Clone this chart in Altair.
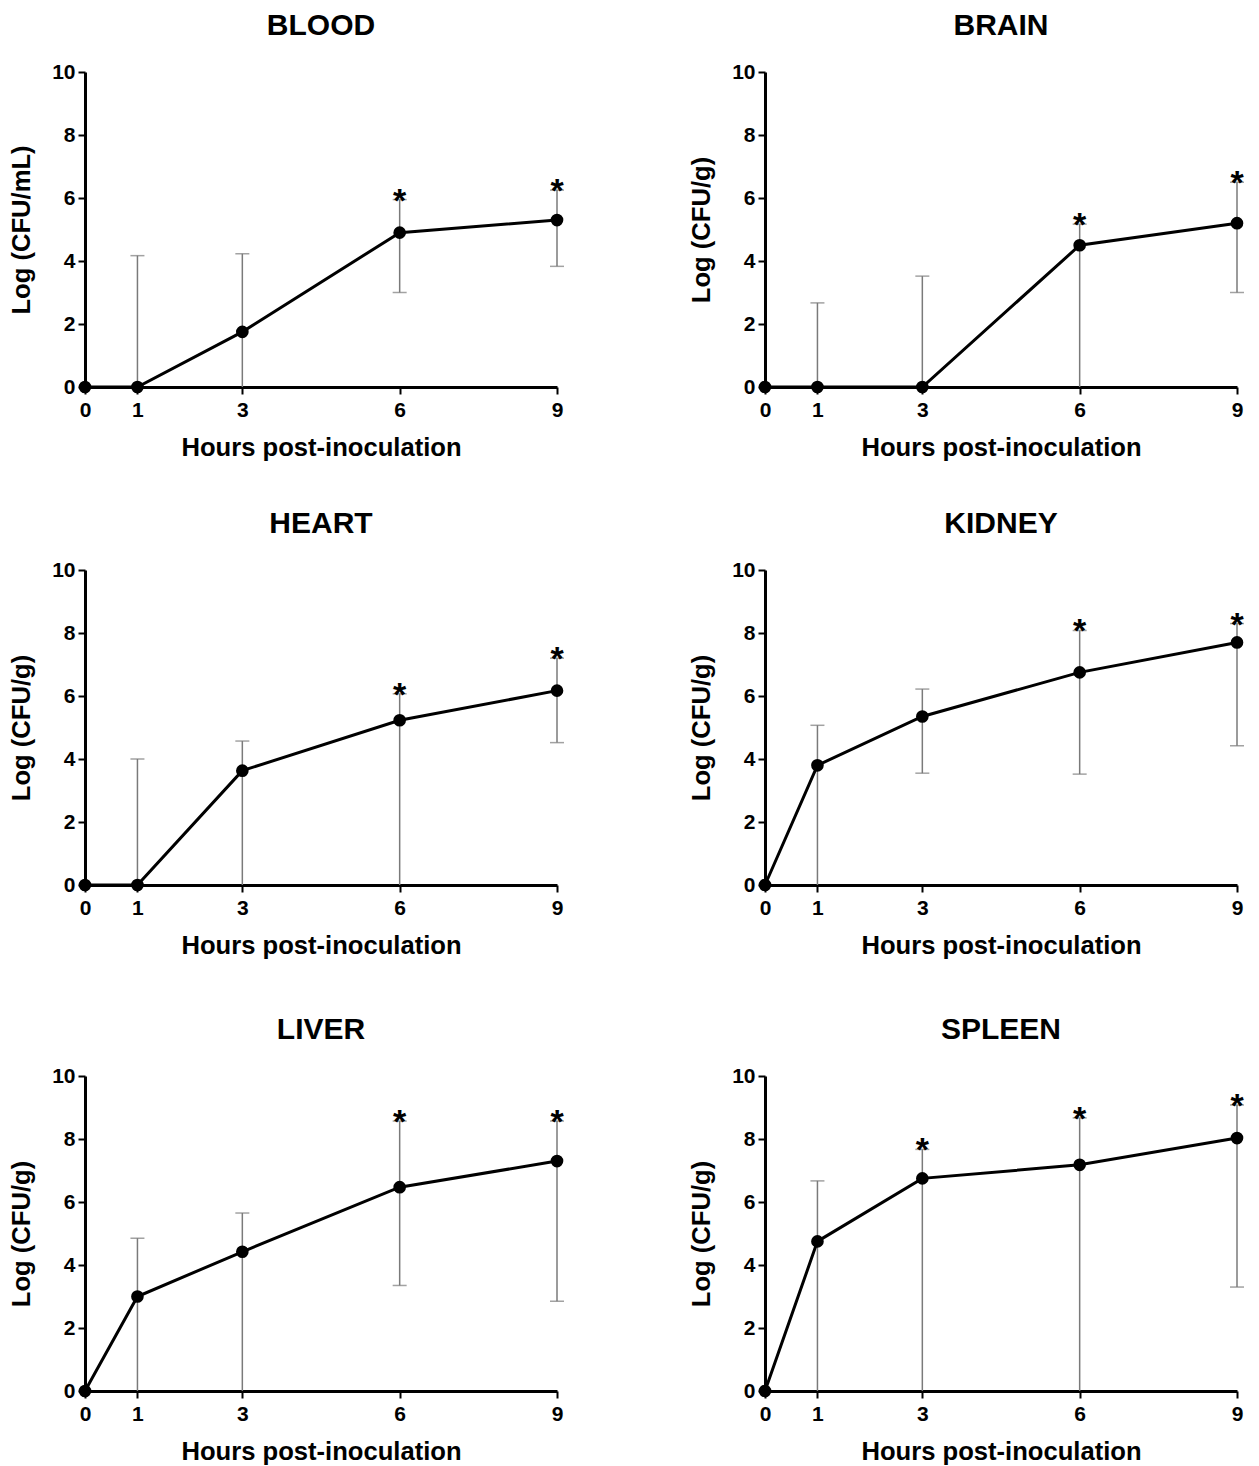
import altair as alt
import pandas as pd

HOURS = [0, 1, 3, 6, 9]

BLOOD_MEAN = [0, 0, 1.75, 4.9, 5.3]
BLOOD_UP = [None, 4.17, 4.23, 5.95, 6.25]
BLOOD_LO = [None, 0, 0, 3.0, 3.83]
BLOOD_STAR = [6, 9]

BRAIN_MEAN = [0, 0, 0, 4.5, 5.2]
BRAIN_UP = [None, 2.67, 3.52, 5.17, 6.5]
BRAIN_LO = [None, 0, 0, 0, 3.0]
BRAIN_STAR = [6, 9]

HEART_MEAN = [0, 0, 3.63, 5.23, 6.17]
HEART_UP = [None, 4.0, 4.57, 6.07, 7.2]
HEART_LO = [None, 0, 0, 0, 4.52]
HEART_STAR = [6, 9]

KIDNEY_MEAN = [0, 3.8, 5.35, 6.75, 7.7]
KIDNEY_UP = [None, 5.07, 6.22, 8.08, 8.3]
KIDNEY_LO = [None, 0, 3.55, 3.52, 4.42]
KIDNEY_STAR = [6, 9]

LIVER_MEAN = [0, 3.0, 4.42, 6.47, 7.3]
LIVER_UP = [None, 4.85, 5.65, 8.57, 8.57]
LIVER_LO = [None, 0, 0, 3.35, 2.85]
LIVER_STAR = [6, 9]

SPLEEN_MEAN = [0, 4.75, 6.75, 7.18, 8.03]
SPLEEN_UP = [None, 6.67, 7.67, 8.67, 9.08]
SPLEEN_LO = [None, 0, 0, 0, 3.3]
SPLEEN_STAR = [3, 6, 9]

X_TICKS = [0, 1, 3, 6, 9]
Y_TICKS = [0, 2, 4, 6, 8, 10]
X_TITLE = "Hours post-inoculation"

FONT = "Liberation Sans"
W, H = 472, 315


def panel(name, ytitle, mean, up, lo, stars):
    df = pd.DataFrame({"h": HOURS, "m": mean, "up": up, "lo": lo})
    err = df.dropna().copy()
    low_caps = err[err["lo"] > 0]
    sdf = err[err["h"].isin(stars)]

    xs = alt.Scale(domain=[0, 9], nice=False, zero=False)
    ys = alt.Scale(domain=[0, 10], nice=False)
    xa = alt.Axis(values=X_TICKS, title=X_TITLE, labelPadding=5, titlePadding=15)
    ya = alt.Axis(values=Y_TICKS, title=ytitle, labelPadding=3, titlePadding=17)

    def X():
        return alt.X("h:Q", scale=xs, axis=xa)

    def Y(f):
        return alt.Y(f, type="quantitative", scale=ys, axis=ya)

    rule = alt.Chart(err).mark_rule(color="#7a7a7a", strokeWidth=1.5).encode(
        x=X(), y=Y("lo"), y2="up"
    )
    capu = alt.Chart(err).mark_tick(
        orient="horizontal", color="#7a7a7a", size=14, thickness=1.5
    ).encode(x=X(), y=Y("up"))
    capl = alt.Chart(low_caps).mark_tick(
        orient="horizontal", color="#7a7a7a", size=14, thickness=1.5
    ).encode(x=X(), y=Y("lo"))
    line = alt.Chart(df).mark_line(color="black", strokeWidth=3).encode(
        x=X(), y=Y("m")
    )
    pts = alt.Chart(df).mark_circle(size=160, color="black", opacity=1).encode(
        x=X(), y=Y("m")
    )
    star = alt.Chart(sdf).mark_text(
        text="*", font=FONT, fontSize=34, fontWeight="bold", baseline="alphabetic",
        dy=12, color="black"
    ).encode(x=X(), y=Y("up"))

    return alt.layer(rule, capu, capl, line, pts, star).properties(
        width=W, height=H,
        title=alt.TitleParams(name, font=FONT, fontSize=30, fontWeight="bold",
                              color="black", anchor="middle", offset=20),
    )


blood = panel("BLOOD", "Log (CFU/mL)", BLOOD_MEAN, BLOOD_UP, BLOOD_LO, BLOOD_STAR)
brain = panel("BRAIN", "Log (CFU/g)", BRAIN_MEAN, BRAIN_UP, BRAIN_LO, BRAIN_STAR)
heart = panel("HEART", "Log (CFU/g)", HEART_MEAN, HEART_UP, HEART_LO, HEART_STAR)
kidney = panel("KIDNEY", "Log (CFU/g)", KIDNEY_MEAN, KIDNEY_UP, KIDNEY_LO, KIDNEY_STAR)
liver = panel("LIVER", "Log (CFU/g)", LIVER_MEAN, LIVER_UP, LIVER_LO, LIVER_STAR)
spleen = panel("SPLEEN", "Log (CFU/g)", SPLEEN_MEAN, SPLEEN_UP, SPLEEN_LO, SPLEEN_STAR)

HSP = 125
row1 = alt.hconcat(blood, brain, spacing=HSP)
row2 = alt.hconcat(heart, kidney, spacing=HSP)
row3 = alt.hconcat(liver, spleen, spacing=HSP)

chart = alt.vconcat(
    row1, alt.vconcat(row2, row3, spacing=56), spacing=48
).properties(
    padding={"left": 1, "top": 3, "right": 5, "bottom": 5}
).configure(background="white").configure_view(stroke=None).configure_axis(
    grid=False,
    domainColor="black",
    domainWidth=3,
    tickColor="black",
    tickWidth=2,
    tickSize=7,
    labelFont=FONT,
    labelFontSize=21,
    labelFontWeight="bold",
    labelColor="black",
    titleFont=FONT,
    titleFontSize=25.6,
    titleFontWeight="bold",
    titleColor="black",
    labelFlush=False,
    labelOverlap=False,
)

chart.save("out.html", embed_options={"renderer": "svg", "actions": False})
